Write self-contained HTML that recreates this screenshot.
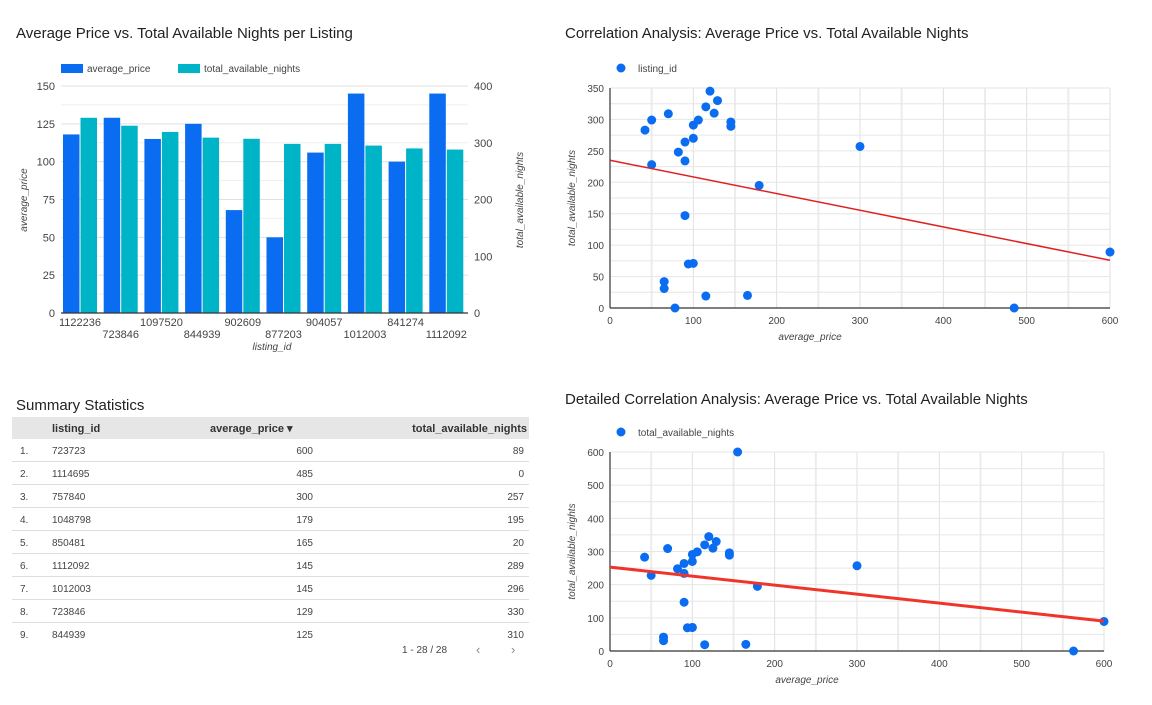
<!DOCTYPE html>
<html><head><meta charset="utf-8">
<style>
html,body{margin:0;padding:0;background:#fff;width:1152px;height:705px;overflow:hidden;font-family:"Liberation Sans",Arial,sans-serif}
svg text{font-family:"Liberation Sans",Arial,sans-serif}
</style></head>
<body>
<svg id="s" width="1152" height="705" xmlns="http://www.w3.org/2000/svg">
<text x="16" y="38" font-size="15" fill="#222">Average Price vs. Total Available Nights per Listing</text>
<text x="565" y="38" font-size="15" fill="#222">Correlation Analysis: Average Price vs. Total Available Nights</text>
<text x="565" y="404" font-size="15" fill="#222">Detailed Correlation Analysis: Average Price vs. Total Available Nights</text>
<text x="16" y="410" font-size="15" fill="#222">Summary Statistics</text>
<g id="bar"></g><g id="sc1"></g><g id="sc2"></g><g id="tbl"></g>
</svg>
<script>
const NS="http://www.w3.org/2000/svg";
const barCats=["1122236","723846","1097520","844939","902609","877203","904057","1012003","841274","1112092"];
const barPrice=[118,129,115,125,68,50,106,145,100,145];
const barNights=[344,330,319,309,307,298,298,295,290,288];
const priceTicks=[0,25,50,75,100,125,150];
const nightTicks=[0,100,200,300,400];
const sc1Price=[600,485,300,179,165,145,145,129,125,120,115,106,100,100,100,94,90,90,90,82,78,70,65,65,50,50,42,115];
const sc1Nights=[89,0,257,195,20,289,296,330,310,345,320,299,291,270,71,70,264,234,147,248,0,309,42,31,299,228,283,19];
const sc1Trend=[235,76];
const sc1XTicks=[0,100,200,300,400,500,600];
const sc1YTicks=[0,50,100,150,200,250,300,350];
const sc2Price=[600,563,300,179,165,145,145,129,125,120,115,106,100,100,100,94,90,90,90,82,155,70,65,65,50,42,115,100];
const sc2Nights=[89,0,257,195,20,289,296,330,310,345,320,299,291,270,71,70,264,234,147,248,600,309,42,31,228,283,19,71];
const sc2Trend=[253,90];
const sc2YTicks=[0,100,200,300,400,500,600];
const tblIds=["723723","1114695","757840","1048798","850481","1112092","1012003","723846","844939"];
const tblPrice=[600,485,300,179,165,145,145,129,125];
const tblNights=[89,0,257,195,20,289,296,330,310];

function el(p,t,a,txt){const e=document.createElementNS(NS,t);for(const k in a)e.setAttribute(k,a[k]);if(txt!==undefined)e.textContent=txt;p.appendChild(e);return e;}

(function(){
const g=document.getElementById('bar');
const L=61,R=468,T=86,B=313;
const yP=v=>B-(v/150)*(B-T), yN=v=>B-(v/400)*(B-T);
for(let v=0;v<=150;v+=12.5){const l=el(g,'line',{x1:L,x2:R,y1:yP(v),y2:yP(v),stroke:v%25==0?'#e0e0e0':'#efefef'});}
priceTicks.forEach(v=>{const t=el(g,'text',{x:L-6,y:yP(v)+4,'text-anchor':'end','font-size':11,fill:'#444'},v);});
nightTicks.forEach(v=>{const t=el(g,'text',{x:R+6,y:yN(v)+4,'font-size':11,fill:'#444'},v);});
const gw=(R-L)/barCats.length;
barCats.forEach((c,i)=>{
 const x0=L+i*gw+2;
 const b1=el(g,'rect',{x:x0,y:yP(barPrice[i]),width:16.5,height:B-yP(barPrice[i]),fill:'#0a6cf0'});
 
 const b2=el(g,'rect',{x:x0+17.5,y:yN(barNights[i]),width:16.5,height:B-yN(barNights[i]),fill:'#00b4c8'});
 
 const t=el(g,'text',{x:x0+17,y:i%2?338:326,'text-anchor':'middle','font-size':11,fill:'#444'},c);
 
});
const ax=el(g,'line',{x1:L,x2:R,y1:B,y2:B,stroke:'#333','stroke-width':1.2});
let t=el(g,'text',{x:272,y:350,'text-anchor':'middle','font-size':10,'font-style':'italic',fill:'#444'},'listing_id');
t=el(g,'text',{transform:'translate(27,200) rotate(-90)','text-anchor':'middle','font-size':10,'font-style':'italic',fill:'#444'},'average_price');
t=el(g,'text',{transform:'translate(523,200) rotate(-90)','text-anchor':'middle','font-size':10,'font-style':'italic',fill:'#444'},'total_available_nights');
let s=el(g,'rect',{x:61,y:64,width:22,height:9,fill:'#0a6cf0'});
t=el(g,'text',{x:87,y:72,'font-size':10,fill:'#444'},'average_price');
s=el(g,'rect',{x:178,y:64,width:22,height:9,fill:'#00b4c8'});
t=el(g,'text',{x:204,y:72,'font-size':10,fill:'#444'},'total_available_nights');
})();

function scatter(id,px,ny,trend,yTicks,yMax,L,R,T,B,legend,thick){
 const g=document.getElementById(id);
 const x=v=>L+v/600*(R-L), y=v=>B-v/yMax*(B-T);
 for(let v=0;v<=600;v+=50){const l=el(g,'line',{x1:x(v),x2:x(v),y1:T,y2:B,stroke:v%100==0?'#e0e0e0':'#ececec','stroke-width':v%100==0?1:2});}
 const step=yTicks[1]-yTicks[0];
 for(let v=0;v<=yMax;v+=step/2){const l=el(g,'line',{x1:L,x2:R,y1:y(v),y2:y(v),stroke:'#e6e6e6'});}
 sc1XTicks.forEach(v=>{const t=el(g,'text',{x:x(v),y:B+16,'text-anchor':'middle','font-size':10,fill:'#444'},v);});
 yTicks.forEach(v=>{const t=el(g,'text',{x:L-6,y:y(v)+4,'text-anchor':'end','font-size':10,fill:'#444'},v);});
 let a=el(g,'line',{x1:L,x2:R,y1:B,y2:B,stroke:'#333','stroke-width':1.2});
 a=el(g,'line',{x1:L,x2:L,y1:T,y2:B,stroke:'#333','stroke-width':1.2});
 px.forEach((p,i)=>{const c=el(g,'circle',{cx:x(p),cy:y(ny[i]),r:4.5,fill:'#0a6cf0'});});
 const tl=el(g,'line',{x1:x(0),y1:y(trend[0]),x2:x(600),y2:y(trend[1]),stroke:thick?'#f0342a':'#e02020','stroke-width':thick?3:1.5});
 
 let t=el(g,'text',{x:(L+R)/2-50,y:B+32,'text-anchor':'middle','font-size':10,'font-style':'italic',fill:'#444'},'average_price');
 t=el(g,'text',{transform:`translate(${L-35},${(T+B)/2}) rotate(-90)`,'text-anchor':'middle','font-size':10,'font-style':'italic',fill:'#444'},'total_available_nights');
 const ly=T-20;
 const c=el(g,'circle',{cx:621,cy:ly,r:4.5,fill:'#0a6cf0'});
 t=el(g,'text',{x:638,y:ly+4,'font-size':10,fill:'#444'},legend);
}
scatter('sc1',sc1Price,sc1Nights,sc1Trend,sc1YTicks,350,610,1110,88,308,'listing_id',false);
scatter('sc2',sc2Price,sc2Nights,sc2Trend,sc2YTicks,600,610,1104,452,651,'total_available_nights',true);

(function(){
 const g=document.getElementById('tbl');
 let r=el(g,'rect',{x:12,y:417,width:517,height:22,fill:'#e6e6e6'});
 let t=el(g,'text',{x:52,y:432,'font-size':11,'font-weight':'bold',fill:'#333'},'listing_id');
 t=el(g,'text',{x:210,y:432,'font-size':11,'font-weight':'bold',fill:'#333'},'average_price ▾');
 t=el(g,'text',{x:527,y:432,'text-anchor':'end','font-size':11,'font-weight':'bold',fill:'#333'},'total_available_nights');
 tblIds.forEach((id,i)=>{
  const yc=450+i*23;
  t=el(g,'text',{x:20,y:yc+4,'font-size':10,fill:'#444'},(i+1)+'.');
  t=el(g,'text',{x:52,y:yc+4,'font-size':10,fill:'#444'},id);
  t=el(g,'text',{x:313,y:yc+4,'text-anchor':'end','font-size':10,fill:'#444'},tblPrice[i]);
  t=el(g,'text',{x:524,y:yc+4,'text-anchor':'end','font-size':10,fill:'#444'},tblNights[i]);
  if(i<8){const l=el(g,'line',{x1:12,x2:529,y1:yc+11.5,y2:yc+11.5,stroke:'#ddd'});}
 });
 t=el(g,'text',{x:402,y:653,'font-size':10,fill:'#444'},'1 - 28 / 28');
 t=el(g,'text',{x:476,y:654,'font-size':13,fill:'#888'},'‹');
 t=el(g,'text',{x:511,y:654,'font-size':13,fill:'#888'},'›');
})();
</script>
</body></html>
